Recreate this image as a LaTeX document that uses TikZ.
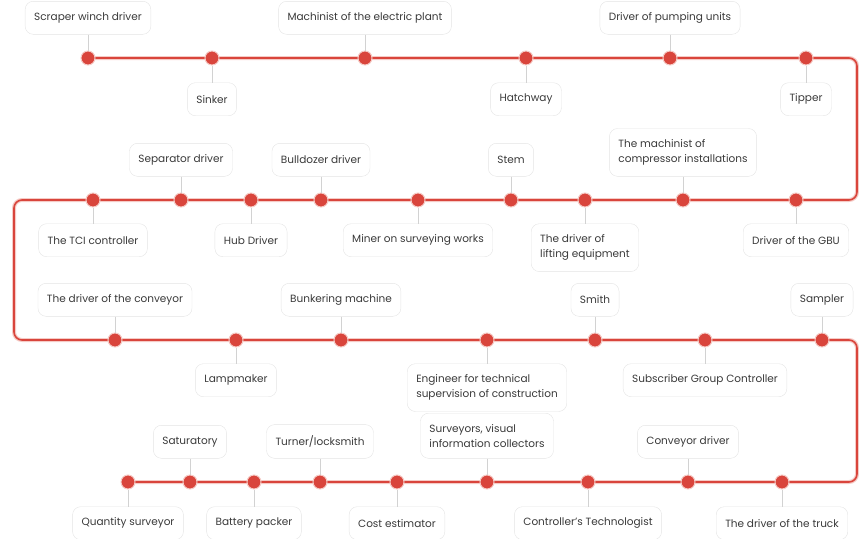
\documentclass[tikz,border=0pt]{standalone}
\usepackage{fontspec}
\setmainfont{Poppins}
\usetikzlibrary{positioning,backgrounds}
\definecolor{lineRed}{HTML}{D9453C}
\definecolor{glowRed}{HTML}{F5CBC6}
\definecolor{boxGray}{HTML}{E4E4E4}
\definecolor{textGray}{HTML}{3A3A3A}
\tikzset{
    job/.style={draw=boxGray, fill=white, rounded corners=8pt, inner xsep=9pt, inner ysep=11pt,
        minimum height=33pt, text=textGray, font=\fontsize{10.5}{15}\selectfont, align=left},
    jobdot/.style={circle, fill=lineRed, draw=glowRed, line width=1pt, minimum size=14pt, inner sep=0pt},
    tie/.style={draw=gray!35, line width=0.5pt},
    track/.style={draw=lineRed, line width=1.6pt, rounded corners=8pt,
        preaction={draw=glowRed, line width=4pt}},
}

\begin{document}
\begin{tikzpicture}[x=1pt, y=-1pt, node distance=16pt]
\useasboundingbox (0,0) rectangle (859,538);

%stops on the four rows
\foreach \x/\n in {88/1, 212/2, 365/3, 526/4, 670/5, 806/6}
    \node[jobdot] (d\n) at (\x,58) {};
\foreach \x/\n in {796/7, 683/8, 585/9, 511/10, 418/11, 321/12, 251/13, 181/14, 93/15}
    \node[jobdot] (d\n) at (\x,200) {};
\foreach \x/\n in {115/16, 236/17, 341/18, 487/19, 595/20, 705/21, 822/22}
    \node[jobdot] (d\n) at (\x,340) {};
\foreach \x/\n in {782/23, 688/24, 588/25, 487/26, 397/27, 320/28, 254/29, 190/30, 128/31}
    \node[jobdot] (d\n) at (\x,482) {};

%turns of the track
\coordinate (c1) at (857,58);
\coordinate (c2) at (857,200);
\coordinate (c3) at (14,200);
\coordinate (c4) at (14,340);
\coordinate (c5) at (857,340);
\coordinate (c6) at (857,482);

\begin{scope}[on background layer]
\draw[track] (d1.center) -- (c1) -- (c2) -- (c3) -- (c4) -- (c5) -- (c6) -- (d31.center);
\end{scope}

%row 1
\node[job, above=16pt of d1] (t1) {Scraper winch driver};
\node[job, below=17pt of d2] (t2) {Sinker};
\node[job, above=16pt of d3] (t3) {Machinist of the electric plant};
\node[job, below=17pt of d4] (t4) {Hatchway};
\node[job, above=16pt of d5] (t5) {Driver of pumping units};
\node[job, below=17pt of d6] (t6) {Tipper};

%row 2
\node[job, below=16pt of d7] (t7) {Driver of the GBU};
\node[job, above=16pt of d8] (t8) {The machinist of\\compressor installations};
\node[job, below=16pt of d9] (t9) {The driver of\\lifting equipment};
\node[job, above=16pt of d10] (t10) {Stem};
\node[job, below=16pt of d11] (t11) {Miner on surveying works};
\node[job, above=16pt of d12] (t12) {Bulldozer driver};
\node[job, below=16pt of d13] (t13) {Hub Driver};
\node[job, above=16pt of d14] (t14) {Separator driver};
\node[job, below=16pt of d15] (t15) {The TCI controller};

%row 3
\node[job, above=16pt of d16] (t16) {The driver of the conveyor};
\node[job, below=16pt of d17] (t17) {Lampmaker};
\node[job, above=16pt of d18] (t18) {Bunkering machine};
\node[job, below=16pt of d19] (t19) {Engineer for technical\\supervision of construction};
\node[job, above=16pt of d20] (t20) {Smith};
\node[job, below=16pt of d21] (t21) {Subscriber Group Controller};
\node[job, above=16pt of d22] (t22) {Sampler};

%row 4
\node[job, below=17pt of d23] (t23) {The driver of the truck};
\node[job, above=16pt of d24] (t24) {Conveyor driver};
\node[job, below=17pt of d25] (t25) {Controller's Technologist};
\node[job, above=16pt of d26] (t26) {Surveyors, visual\\information collectors};
\node[job, below=17pt of d27] (t27) {Cost estimator};
\node[job, above=16pt of d28] (t28) {Turner/locksmith};
\node[job, below=17pt of d29] (t29) {Battery packer};
\node[job, above=16pt of d30] (t30) {Saturatory};
\node[job, below=17pt of d31] (t31) {Quantity surveyor};

%ties from labels to stops
\foreach \n in {1,...,31}
    \draw[tie] (t\n) -- (d\n);
\end{tikzpicture}
\end{document}
